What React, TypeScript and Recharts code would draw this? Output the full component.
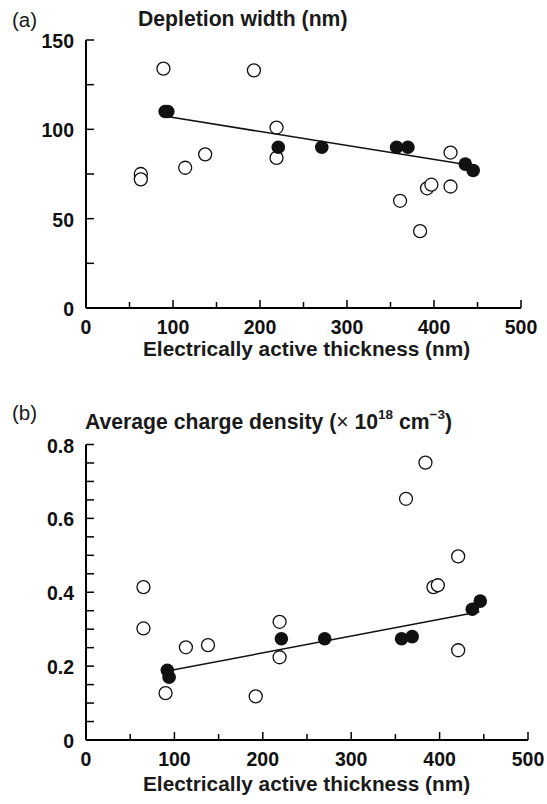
import React from 'react'
import { ScatterChart, Scatter, XAxis, YAxis } from 'recharts'

// values: [thickness nm, value]
const openA = [
  [89, 134], [193, 133], [219, 101], [219, 84], [137, 86], [114, 78.5],
  [63, 75], [63, 72], [419, 87], [419, 68], [392, 67], [397, 69],
  [361, 60], [384, 43],
]
const filledA = [
  [91, 110], [94, 110], [221, 90], [271, 90], [357, 90], [370, 90],
  [436, 80.5], [445, 77],
]
const fitA = [[95, 107], [440, 80]]

const openB = [
  [65, 0.414], [65, 0.302], [90, 0.127], [113, 0.251], [138, 0.257],
  [192, 0.118], [219, 0.32], [219, 0.224], [362, 0.653], [384, 0.751],
  [393, 0.414], [398, 0.419], [421, 0.497], [421, 0.243],
]
const filledB = [
  [92, 0.189], [94, 0.17], [221, 0.274], [270, 0.274], [357, 0.274],
  [369, 0.28], [437, 0.354], [446, 0.376],
]
const fitB = [[95, 0.188], [445, 0.347]]

const xTicks = [0, 50, 100, 150, 200, 250, 300, 350, 400, 450, 500]
const yTicksA = [0, 25, 50, 75, 100, 125, 150]
const yTicksB = [0, 0.05, 0.1, 0.15, 0.2, 0.25, 0.3, 0.35, 0.4, 0.45, 0.5, 0.55, 0.6, 0.65, 0.7, 0.75, 0.8]

const FONT = '"Liberation Sans", Arial, Helvetica, sans-serif'
const toPts = (arr: number[][]) => arr.map(([x, y]) => ({ x, y }))

const XTick = (props: any) => {
  const { x, y, payload } = props
  const v = payload.value
  const major = v % 100 === 0
  return (
    <g>
      <line x1={x} x2={x} y1={y} y2={y - (major ? 8 : 6)} stroke="#000" strokeWidth={1.5} />
      {major && (
        <text x={x} y={y + 19} textAnchor="middle" dominantBaseline="central"
          fontFamily={FONT} fontWeight="bold" fontSize={19.5} fill="#111">
          {v}
        </text>
      )}
    </g>
  )
}

const makeYTick = (isLabel: (v: number) => boolean) => (props: any) => {
  const { x, y, payload } = props
  const v = payload.value
  return (
    <g>
      <line x1={x} x2={x + 8} y1={y} y2={y} stroke="#000" strokeWidth={1.5} />
      {isLabel(v) && (
        <text x={x - 12} y={y + 1} textAnchor="end" dominantBaseline="central"
          fontFamily={FONT} fontWeight="bold" fontSize={19.5} fill="#111">
          {v}
        </text>
      )}
    </g>
  )
}

const openDot = (p: any) => <circle cx={p.cx} cy={p.cy} r={6.5} fill="#fff" stroke="#111" strokeWidth={1.3} />
const fullDot = (p: any) => <circle cx={p.cx} cy={p.cy} r={6.8} fill="#111" />
const noDot = () => <g />

const labelStyle: React.CSSProperties = {
  position: 'absolute', fontFamily: FONT, fontWeight: 'bold', fontSize: 20.8,
  color: '#1a1a1a', whiteSpace: 'nowrap', lineHeight: 1,
}
const tagStyle: React.CSSProperties = {
  position: 'absolute', fontFamily: FONT, fontSize: 20.5, color: '#1a1a1a', lineHeight: 1,
}
const supStyle: React.CSSProperties = {
  fontSize: 13.5, verticalAlign: 'top', position: 'relative', top: -3,
}

const Panel = ({ top, height, margin, yDomain, yTicks, yLabel, open, filled, fit }: any) => (
  <div style={{ position: 'absolute', left: 0, top }}>
    <ScatterChart width={547} height={height} margin={margin}>
      <XAxis type="number" dataKey="x" domain={[0, 500]} ticks={xTicks} interval={0}
        height={60} tickLine={false} tickSize={0} tickMargin={0} tick={<XTick />}
        axisLine={{ stroke: '#000', strokeWidth: 2 }} />
      <YAxis type="number" dataKey="y" domain={yDomain} ticks={yTicks} interval={0}
        width={40} tickLine={false} tickSize={0} tickMargin={0} tick={makeYTick(yLabel)}
        axisLine={{ stroke: '#000', strokeWidth: 2 }} />
      <Scatter data={toPts(open)} shape={openDot} isAnimationActive={false} />
      <Scatter data={toPts(fit)} shape={noDot} line={{ stroke: '#111', strokeWidth: 1.5 }} isAnimationActive={false} />
      <Scatter data={toPts(filled)} shape={fullDot} isAnimationActive={false} />
    </ScatterChart>
  </div>
)

export default function App() {
  return (
    <div style={{ position: 'absolute', left: 0, top: 0, width: 547, height: 804, background: '#fff' }}>
      <div style={{ ...tagStyle, left: 12, top: 10 }}>(a)</div>
      <div style={{ ...labelStyle, left: 138, top: 8, fontSize: 21.2 }}>Depletion width (nm)</div>
      <Panel top={0} height={380} margin={{ top: 40, right: 26, left: 46, bottom: 12 }}
        yDomain={[0, 150]} yTicks={yTicksA} yLabel={(v: number) => v % 50 === 0}
        open={openA} filled={filledA} fit={fitA} />
      <div style={{ ...labelStyle, left: 143, top: 339 }}>Electrically active thickness (nm)</div>

      <div style={{ ...tagStyle, left: 12, top: 403 }}>(b)</div>
      <div style={{ ...labelStyle, left: 85, top: 411, fontSize: 21.2 }}>
        Average charge density (<span style={{ fontWeight: 'normal' }}>×</span> 10
        <sup style={supStyle}>18</sup> cm
        <sup style={supStyle}>−3</sup>)
      </div>
      <Panel top={400} height={404} margin={{ top: 44.5, right: 19, left: 46, bottom: 4 }}
        yDomain={[0, 0.8]} yTicks={yTicksB}
        yLabel={(v: number) => Math.abs(v * 5 - Math.round(v * 5)) < 1e-6}
        open={openB} filled={filledB} fit={fitB} />
      <div style={{ ...labelStyle, left: 143, top: 774 }}>Electrically active thickness (nm)</div>
    </div>
  )
}
